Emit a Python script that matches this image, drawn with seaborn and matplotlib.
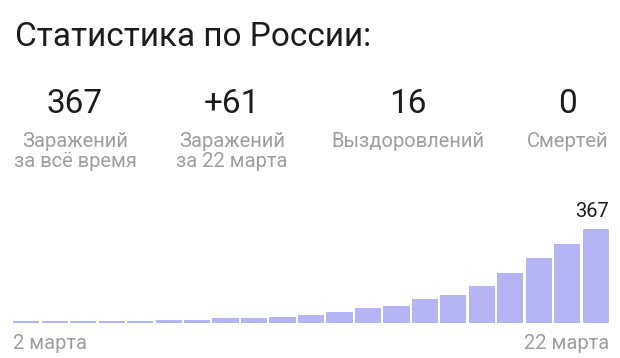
import seaborn as sns
import matplotlib.pyplot as plt
import pandas as pd

plt.switch_backend('agg')

days = ['%d марта' % d for d in range(2, 23)]
cases = [6, 6, 6, 6, 6, 11, 11, 18, 18, 25, 32, 44, 58, 65, 92, 110, 144, 197, 255, 310, 367]

stat_values = ['367', '+61', '16', '0']
stat_line1 = ['Заражений', 'Заражений', 'Выздоровлений', 'Смертей']
stat_line2 = ['за всё время', 'за 22 марта', '', '']
stat_x = [75, 232, 408, 568]

W, H = 620, 358
BAR = '#b5b5f3'
GRAY = '#9e9e9e'
INK = '#1c1c1c'

sns.set_theme(style='white')
plt.rcParams['font.family'] = ['Roboto', 'DejaVu Sans']

fig = plt.figure(figsize=(W / 100, H / 100), dpi=100)
fig.patch.set_facecolor('white')


def fx(px):
    return px / W


def fy(py):
    return 1 - py / H


fig.text(fx(15), fy(46), 'Статистика по России:', fontsize=24, color=INK,
         ha='left', va='baseline')

for x, v, l1, l2 in zip(stat_x, stat_values, stat_line1, stat_line2):
    fig.text(fx(x), fy(113), v, fontsize=24, color=INK, ha='center', va='baseline')
    fig.text(fx(x), fy(147), l1, fontsize=14.5, color=GRAY, ha='center', va='baseline')
    if l2:
        fig.text(fx(x), fy(167), l2, fontsize=14.5, color=GRAY, ha='center', va='baseline')

# bars
base, top_px = 323, 229
ax_h = 110
ax = fig.add_axes([fx(12), 1 - base / H, 598 / W, ax_h / H])
df = pd.DataFrame({'day': days, 'cases': cases})
sns.barplot(data=df, x='day', y='cases', color=BAR, saturation=1, width=0.92,
            linewidth=0, ax=ax)
ax.set_ylim(0, cases[-1] * ax_h / (base - top_px))
ax.set_xlim(-0.5, len(days) - 0.5)
ax.axis('off')

n = len(days) - 1
ax.annotate(str(cases[-1]), xy=(n + 0.46, cases[-1]), xytext=(0, 6),
            textcoords='offset points', ha='right', va='bottom', fontsize=14.5, color=INK)

fig.text(fx(13), fy(349), days[0], fontsize=14.5, color=GRAY, ha='left', va='baseline')
fig.text(fx(609), fy(349), days[-1], fontsize=14.5, color=GRAY, ha='right', va='baseline')

fig.savefig('out.png', dpi=100, facecolor='white')
